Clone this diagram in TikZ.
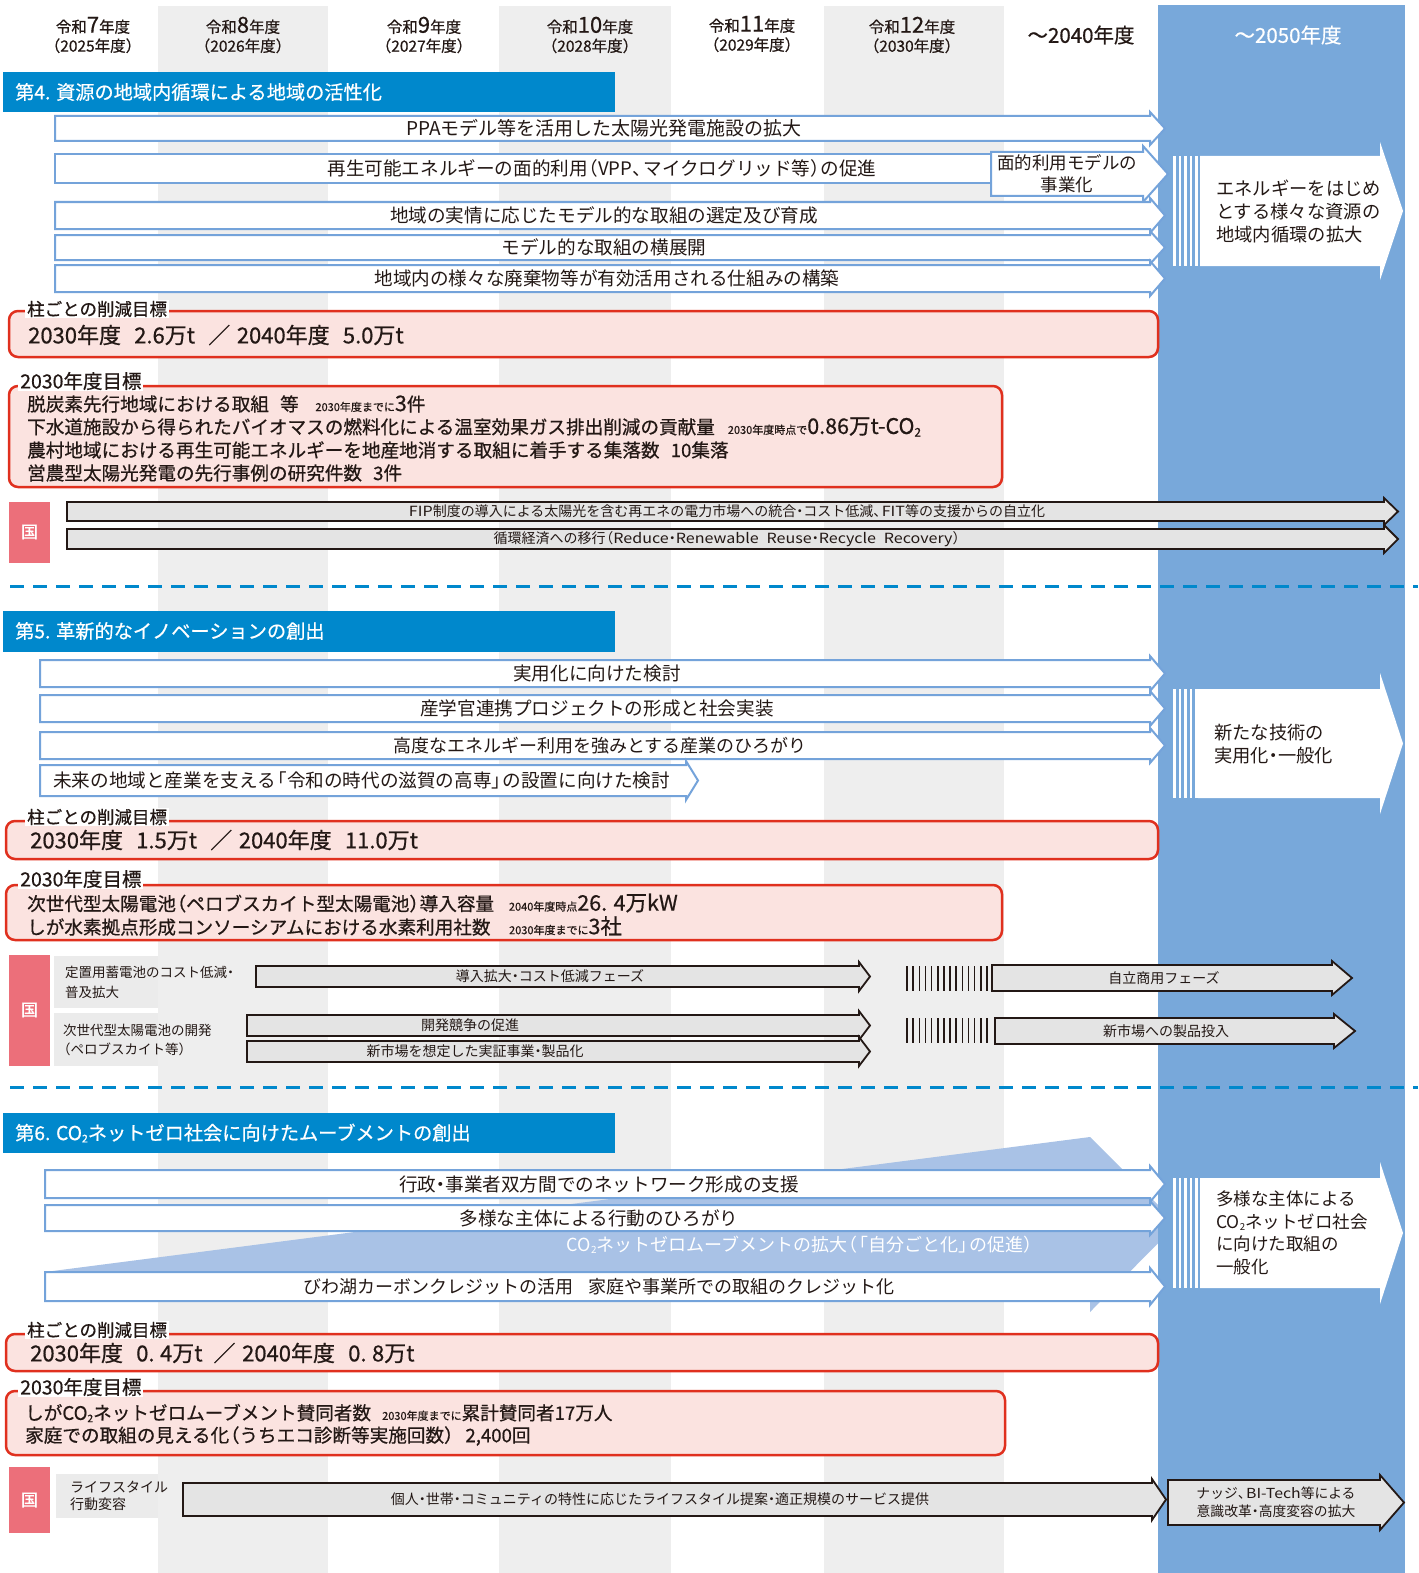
\documentclass[tikz,border=0pt]{standalone}
\usepackage{fontspec}
\setmainfont{Noto Sans CJK JP}
\newfontfamily\medfont[FakeBold=0.6]{Noto Sans CJK JP}
\newfontfamily\widel[FakeStretch=1.15]{Noto Sans CJK JP}
\definecolor{bluecol}{HTML}{78A8DA}
\definecolor{hdrblue}{HTML}{0088CC}
\definecolor{stripe}{HTML}{EEEEEE}
\definecolor{arrline}{HTML}{74A3DA}
\definecolor{tgtred}{HTML}{E0301E}
\definecolor{tgtfill}{HTML}{FBE3E0}
\definecolor{kuni}{HTML}{EC6F7A}
\definecolor{garrfill}{HTML}{E4E4E4}
\definecolor{garrline}{HTML}{231815}
\definecolor{wedgecol}{HTML}{A9C2E6}
\definecolor{txt}{HTML}{231815}
\definecolor{lblgray}{HTML}{EBEBEB}
\newcommand{\fsz}[2]{\fontsize{#1}{#2}\selectfont}
\newcommand{\cotwo}{CO\raisebox{-0.12em}{\scalebox{0.55}{2}}}
\newcommand{\lp}{\makebox[0.55em][r]{（}}
\newcommand{\rp}{\makebox[0.55em][l]{）}}
\newcommand{\lk}{\makebox[0.6em][r]{「}}
\newcommand{\rk}{\makebox[0.6em][l]{」}}
\newcommand{\nd}{\makebox[0.5em][c]{・}}
\newcommand{\tc}{\makebox[0.6em][l]{、}}
\newcommand{\arrowshape}[7]{\draw[#1] (#2,#4) -- (#3,#4) -- (#3,{#4-#7}) -- ({#3+#6},{(#4+#5)/2}) -- (#3,{#5+#7}) -- (#3,#5) -- (#2,#5) -- cycle;}
\newcommand{\hatchlines}[3]{\foreach \hi in {0,...,13}{\draw[garrline, line width=1.6] ({#1+\hi*6.15},#2) -- ({#1+\hi*6.15},#3);}}
\newcommand{\whitelines}[2]{\foreach \wi in {0,...,4}{\fill[white] ({1173+\wi*5.5},#1) rectangle ({1175.6+\wi*5.5},#2);}}
\tikzset{
  larrow/.style={draw=arrline, line width=2, fill=white},
  garrow/.style={draw=garrline, line width=1.8, fill=garrfill},
  resarrow/.style={fill=white, draw=none},
  tgtbox/.style={draw=tgtred, fill=tgtfill, line width=2.5, rounded corners=9},
  hdr/.style={align=center, inner sep=0, text=txt, font=\medfont\fsz{15.5}{19}},
  secttl/.style={anchor=west, inner sep=0, text=white, font=\medfont\fsz{19.2}{22}},
  atxt/.style={inner sep=0, text=txt, font=\fsz{18.6}{22}},
  gtxt/.style={inner sep=0, text=txt, font=\fsz{14}{16}},
  tline/.style={anchor=west, inner sep=0, text=txt, font=\medfont\fsz{18.6}{22}},
  tbig/.style={anchor=west, inner sep=0, text=txt, font=\medfont\fsz{22}{24}},
  tlbl/.style={anchor=west, fill=white, inner xsep=2, inner ysep=1, text=txt, font=\medfont\fsz{17.5}{20}},
  kunitxt/.style={text=white, inner sep=0, font=\medfont\fsz{17}{20}},
  lbltxt/.style={anchor=west, align=left, inner sep=0, text=txt, font=\fsz{13.5}{20}},
  restxt/.style={anchor=west, align=left, inner sep=0, text=txt, font=\fsz{18.3}{23}},
}
\newcommand{\sm}[1]{{\fsz{11}{11}#1}}
\newcommand{\bg}[1]{{\fsz{21.5}{21}#1}}
\begin{document}
\begin{tikzpicture}[x=1pt,y=-1pt]
\useasboundingbox (0,0) rectangle (1418,1573);
\fill[white] (0,0) rectangle (1418,1573);
% column stripes
\fill[stripe] (158,6) rectangle (328,1573);
\fill[stripe] (499,6) rectangle (671,1573);
\fill[stripe] (824,6) rectangle (1004,1573);
% movement wedge (section 6)
\fill[wedgecol] (45,1272) -- (1090,1137) -- (1177,1224) -- (1090,1312) -- (1090,1300) -- cycle;
% 2050 column
\fill[bluecol] (1158,5) rectangle (1405,1573);

% ---------- header ----------
\node[hdr] (h7) at (93,35) {令和{\fsz{22}{19}7}年度\\\lp 2025年度\rp};
\node[hdr] (h8) at (243,35) {令和{\fsz{22}{19}8}年度\\\lp 2026年度\rp};
\node[hdr] (h9) at (424,35) {令和{\fsz{22}{19}9}年度\\\lp 2027年度\rp};
\node[hdr] (h10) at (590,35) {令和{\fsz{22}{19}10}年度\\\lp 2028年度\rp};
\node[hdr] (h11) at (752,34) {令和{\fsz{22}{19}11}年度\\\lp 2029年度\rp};
\node[hdr] (h12) at (912,35) {令和{\fsz{22}{19}12}年度\\\lp 2030年度\rp};
\node[hdr, font=\medfont\fsz{20.5}{22}] (h40) at (1081,35) {～2040年度};
\node[hdr, font=\medfont\fsz{20.5}{22}, text=white] (h50) at (1288,35) {～2050年度};

% ---------- section 4 ----------
\fill[hdrblue] (3,72) rectangle (615,112);
\node[secttl] (s4) at (15,92) {第4. 資源の地域内循環による地域の活性化};

\arrowshape{larrow}{55}{1150}{116}{141}{15}{4}
\node[atxt, font=\fsz{19}{22}] (a41) at (604,128.5) {PPAモデル等を活用した太陽光発電施設の拡大};
\draw[larrow] (55,154) rectangle (1000,183);
\node[atxt] (a42) at (602,168.5) {再生可能エネルギーの面的利用\lp VPP\tc マイクログリッド等\rp の促進};
\arrowshape{larrow}{991}{1143}{152}{196}{25}{6}
\node[atxt, align=center, font=\fsz{17.5}{22}] (a42b) at (1067,174) {面的利用モデルの\\事業化};
\arrowshape{larrow}{55}{1150}{202}{229}{15}{4}
\node[atxt] (a43) at (604,215.5) {地域の実情に応じたモデル的な取組の選定及び育成};
\arrowshape{larrow}{55}{1150}{235}{260}{15}{4}
\node[atxt] (a44) at (604,247.5) {モデル的な取組の横展開};
\arrowshape{larrow}{55}{1150}{265}{292}{15}{4}
\node[atxt] (a45) at (607,278.5) {地域内の様々な廃棄物等が有効活用される仕組みの構築};

\arrowshape{resarrow}{1200}{1380}{156}{266}{23}{14}
\whitelines{156}{266}
\node[restxt] (r4) at (1216,211) {エネルギーをはじめ\\とする様々な資源の\\地域内循環の拡大};

\draw[tgtbox] (9,311) rectangle (1158,357);
\node[tlbl] (l41) at (25,309) {柱ごとの削減目標};
\node[tbig] (t41) at (28,335) {2030年度\hspace{0.6em}2.6万t\hspace{0.6em}／\hspace{0.3em}2040年度\hspace{0.6em}5.0万t};

\draw[tgtbox] (9,386) rectangle (1002,487);
\node[tlbl, font=\medfont\fsz{19.5}{20}] (l42) at (18,381) {2030年度目標};
\node[tline] (t42a) at (27,404) {脱炭素先行地域における取組\hspace{0.6em}等\hspace{0.9em}\sm{2030年度までに}\bg{3}件};
\node[tline] (t42b) at (27,427) {下水道施設から得られたバイオマスの燃料化による温室効果ガス排出削減の貢献量\hspace{0.7em}\sm{2030年度時点で}\bg{0.86万t-\cotwo}};
\node[tline] (t42c) at (27,450) {農村地域における再生可能エネルギーを地産地消する取組に着手する集落数\hspace{0.6em}10集落};
\node[tline] (t42d) at (27,473) {営農型太陽光発電の先行事例の研究件数\hspace{0.6em}3件};

\fill[kuni] (9,502) rectangle (50,563);
\node[kunitxt] (k4) at (29.5,532) {国};
\arrowshape{garrow}{67}{1384}{502}{521}{14}{4}
\node[gtxt] (g41) at (727,511.5) {{\widel FIP}制度の導入による太陽光を含む再エネの電力市場への統合\nd コスト低減\tc{\widel FIT}等の支援からの自立化};
\arrowshape{garrow}{67}{1384}{529}{549}{14}{4}
\node[gtxt] (g42) at (727,539) {循環経済への移行\lp{\widel Reduce}\nd{\widel Renewable}\hspace{0.55em}{\widel Reuse}\nd{\widel Recycle}\hspace{0.55em}{\widel Recovery}\rp};

\draw[hdrblue, line width=3, dash pattern=on 14 off 9] (10,586) -- (1418,586);

% ---------- section 5 ----------
\fill[hdrblue] (3,611) rectangle (615,652);
\node[secttl] (s5) at (15,631) {第5. 革新的なイノベーションの創出};

\arrowshape{larrow}{40}{1150}{660}{687}{15}{4}
\node[atxt] (a51) at (597,673.5) {実用化に向けた検討};
\arrowshape{larrow}{40}{1150}{695}{722}{15}{4}
\node[atxt] (a52) at (597,708.5) {産学官連携プロジェクトの形成と社会実装};
\arrowshape{larrow}{40}{1150}{732}{759}{15}{4}
\node[atxt, font=\fsz{18}{22}] (a53) at (600,745.5) {高度なエネルギー利用を強みとする産業のひろがり};
\arrowshape{larrow}{40}{686}{765}{796}{12}{4}
\node[atxt, anchor=west] (a54) at (53,780.5) {未来の地域と産業を支える\lk 令和の時代の滋賀の高専\rk の設置に向けた検討};

\arrowshape{resarrow}{1198}{1380}{689}{798}{23}{16}
\whitelines{689}{798}
\node[restxt] (r5) at (1214,744) {新たな技術の\\実用化\nd 一般化};

\draw[tgtbox] (6,821) rectangle (1158,859);
\node[tlbl] (l51) at (25,817) {柱ごとの削減目標};
\node[tbig] (t51) at (30,840) {2030年度\hspace{0.6em}1.5万t\hspace{0.6em}／\hspace{0.3em}2040年度\hspace{0.6em}11.0万t};

\draw[tgtbox] (6,885) rectangle (1002,940);
\node[tlbl, font=\medfont\fsz{19.5}{20}] (l52) at (18,879) {2030年度目標};
\node[tline] (t52a) at (27,903) {次世代型太陽電池\lp ペロブスカイト型太陽電池\rp 導入容量\hspace{0.8em}\sm{2040年度時点}\bg{26.\hspace{0.3em}4万kW}};
\node[tline] (t52b) at (27,926) {しが水素拠点形成コンソーシアムにおける水素利用社数\hspace{1em}\sm{2030年度までに}\bg{3社}};

\fill[kuni] (9,955) rectangle (50,1066);
\node[kunitxt] (k5) at (29.5,1010) {国};
\fill[lblgray] (54,956) rectangle (158,1008);
\node[lbltxt] (lb51) at (65,982) {定置用蓄電池のコスト低減\nd\\普及拡大};
\fill[lblgray] (54,1013) rectangle (158,1066);
\node[lbltxt, font=\fsz{13.5}{19}] (lb52) at (63,1040) {次世代型太陽電池の開発\\\lp ペロブスカイト等\rp};

\arrowshape{garrow}{256}{859}{966}{987}{11}{4}
\node[gtxt] (g51) at (550,976.5) {導入拡大\nd コスト低減フェーズ};
\arrowshape{garrow}{247}{859}{1015}{1036}{11}{4}
\node[gtxt] (g52) at (470,1025.5) {開発競争の促進};
\arrowshape{garrow}{247}{859}{1041}{1062}{11}{4}
\node[gtxt] (g53) at (475,1051.5) {新市場を想定した実証事業\nd 製品化};
\hatchlines{907}{966}{991}
\hatchlines{907}{1018}{1043}
\arrowshape{garrow}{992}{1332}{965}{991}{20}{4}
\node[gtxt] (g54) at (1164,978) {自立商用フェーズ};
\arrowshape{garrow}{995}{1334}{1018}{1044}{21}{4}
\node[gtxt] (g55) at (1166,1031) {新市場への製品投入};

\draw[hdrblue, line width=3, dash pattern=on 14 off 9] (10,1087) -- (1418,1087);

% ---------- section 6 ----------
\fill[hdrblue] (3,1113) rectangle (615,1153);
\node[secttl] (s6) at (15,1133) {第6. \cotwo{}ネットゼロ社会に向けたムーブメントの創出};

\arrowshape{larrow}{45}{1150}{1170}{1198}{15}{4}
\node[atxt] (a61) at (599,1184) {行政\nd 事業者双方間でのネットワーク形成の支援};
\arrowshape{larrow}{45}{1150}{1205}{1231}{15}{4}
\node[atxt] (a62) at (599,1218) {多様な主体による行動のひろがり};
\node[atxt, text=white, font=\fsz{18}{22}] (w6) at (800,1245) {\cotwo{}ネットゼロムーブメントの拡大\lp\lk 自分ごと化\rk の促進\rp};
\arrowshape{larrow}{45}{1150}{1272}{1301}{15}{4}
\node[atxt, font=\fsz{18}{22}] (a63) at (599,1287) {びわ湖カーボンクレジットの活用\hspace{0.8em}家庭や事業所での取組のクレジット化};

\arrowshape{resarrow}{1200}{1380}{1178}{1288}{23}{16}
\whitelines{1178}{1288}
\node[restxt, font=\fsz{17.5}{22.5}] (r6) at (1216,1233) {多様な主体による\\\cotwo{}ネットゼロ社会\\に向けた取組の\\一般化};

\draw[tgtbox] (6,1334) rectangle (1158,1371);
\node[tlbl] (l61) at (25,1330) {柱ごとの削減目標};
\node[tbig] (t61) at (30,1353) {2030年度\hspace{0.6em}0.\hspace{0.25em}4万t\hspace{0.5em}／\hspace{0.3em}2040年度\hspace{0.6em}0.\hspace{0.25em}8万t};

\draw[tgtbox] (6,1391) rectangle (1005,1455);
\node[tlbl, font=\medfont\fsz{19.5}{20}] (l62) at (18,1387) {2030年度目標};
\node[tline] (t62a) at (25,1413) {しが\cotwo{}ネットゼロムーブメント賛同者数\hspace{0.6em}\sm{2030年度までに}累計賛同者17万人};
\node[tline] (t62b) at (25,1436) {家庭での取組の見える化\lp うちエコ診断等実施回数\rp\hspace{0.6em}2,400回};

\fill[kuni] (9,1467) rectangle (50,1533);
\node[kunitxt] (k6) at (29.5,1500) {国};
\fill[lblgray] (56,1474) rectangle (158,1518);
\node[lbltxt, font=\fsz{14}{17}] (lb61) at (70,1496) {ライフスタイル\\行動変容};
\arrowshape{garrow}{183}{1152}{1483}{1516}{14}{4}
\node[gtxt] (g61) at (660,1499.5) {個人\nd 世帯\nd コミュニティの特性に応じたライフスタイル提案\nd 適正規模のサービス提供};
\arrowshape{garrow}{1168}{1380}{1480}{1525}{24}{5}
\node[gtxt, align=center, font=\fsz{13.8}{18}] (g62) at (1276,1502) {ナッジ\tc{\widel BI-Tech}等による\\意識改革\nd 高度変容の拡大};
\end{tikzpicture}
\end{document}
